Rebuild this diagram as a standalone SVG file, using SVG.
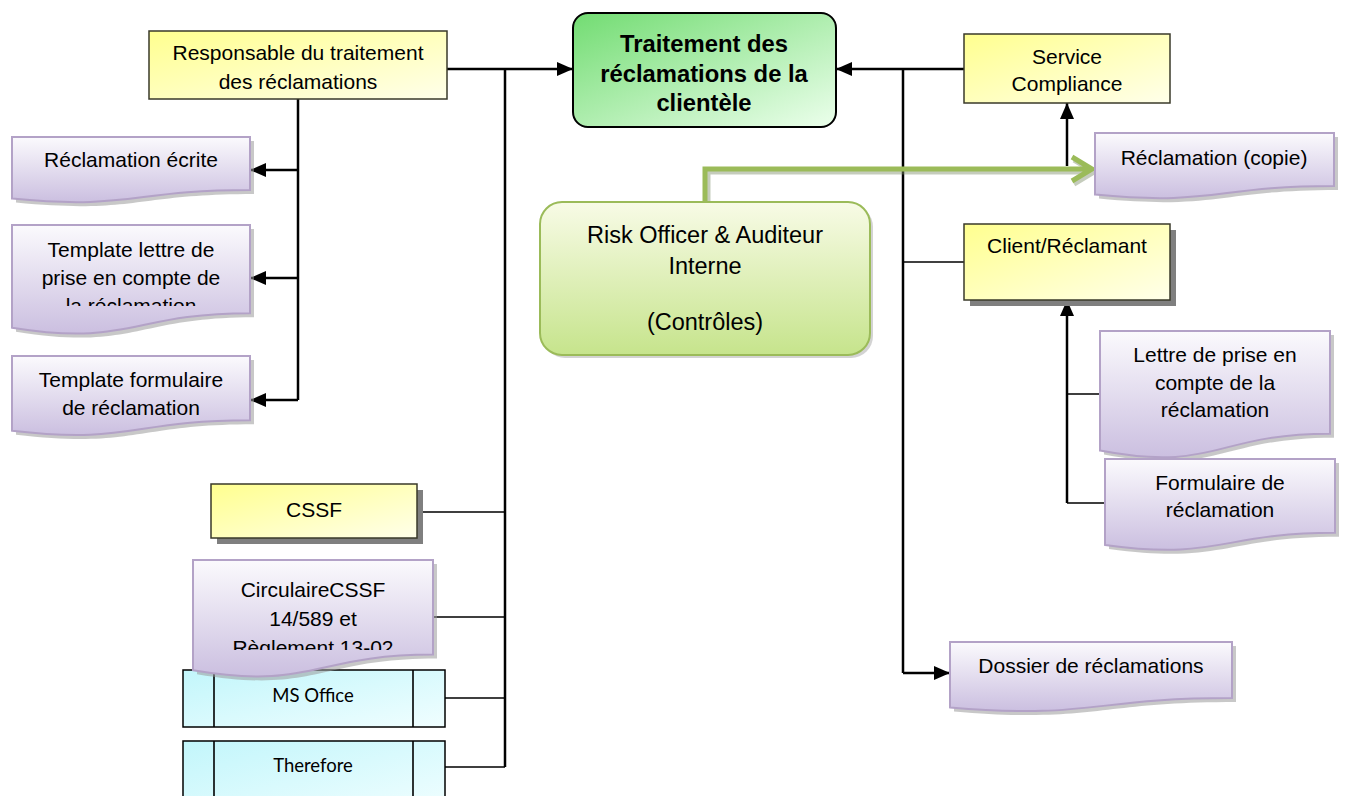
<svg xmlns="http://www.w3.org/2000/svg" width="1346" height="796" viewBox="0 0 1346 796">
<style>
text{font-family:"Liberation Sans",Arial,sans-serif;font-size:21px;fill:#000;text-anchor:middle}
.big{font-size:23.5px}
.bold{font-weight:bold;font-size:23.8px}
.cal{font-family:Lato,"Open Sans",sans-serif;font-size:18.5px}
.doc{fill:url(#gDoc);stroke:#b3a2c7;stroke-width:2}
.dsh{fill:#9a9a9a;opacity:0.55}
.yel{fill:url(#gYel);stroke:#3a3a2a;stroke-width:1.5}
.ysh{fill:#7f7f7f}
.cy{fill:url(#gCy);stroke:#000;stroke-width:1.5}
.ln{fill:none;stroke:#000;stroke-width:2.5}
.lt{fill:none;stroke:#000;stroke-width:1.6}
.ar{marker-end:url(#arr)}
</style>
<defs>
<linearGradient id="gDoc" x1="0" y1="0" x2="0" y2="1"><stop offset="0" stop-color="#fbfafd"/><stop offset="1" stop-color="#cbbfe0"/></linearGradient>
<linearGradient id="gYel" x1="0" y1="0" x2="1" y2="1"><stop offset="0" stop-color="#ffff8f"/><stop offset="1" stop-color="#ffffea"/></linearGradient>
<linearGradient id="gMain" x1="0" y1="0" x2="1" y2="1"><stop offset="0" stop-color="#72dc72"/><stop offset="1" stop-color="#ecffec"/></linearGradient>
<linearGradient id="gRisk" x1="0" y1="0" x2="0" y2="1"><stop offset="0" stop-color="#f8fbe6"/><stop offset="1" stop-color="#c6e48c"/></linearGradient>
<linearGradient id="gCy" x1="0" y1="0" x2="1" y2="1"><stop offset="0" stop-color="#c2f6fb"/><stop offset="1" stop-color="#f0feff"/></linearGradient>
<marker id="arr" viewBox="0 0 16 14" refX="16" refY="7" markerWidth="16" markerHeight="14" markerUnits="userSpaceOnUse" orient="auto"><path d="M0,0 L16,7 L0,14 Z" fill="#000"/></marker>
<clipPath id="clipTL"><rect x="12" y="225" width="238" height="81"/></clipPath>
<clipPath id="clipCi"><rect x="193" y="560" width="240" height="90"/></clipPath>
</defs>

<g id="connectors">
<path class="ln ar" d="M447,69 H573"/>
<path class="ln" d="M505,69 V767"/>
<path class="lt" d="M417,512 H505 M433,617 H505 M445,698 H505 M445,767 H505"/>
<path class="ln" d="M298,99 V400"/>
<path class="ln ar" d="M298,170 H250"/>
<path class="ln ar" d="M298,278 H250"/>
<path class="ln ar" d="M298,400 H250"/>
<path class="ln ar" d="M964,69 H836"/>
<path class="ln" d="M903,69 V673"/>
<path class="ln ar" d="M903,673 H950"/>
<path class="lt" d="M903,262 H964"/>
<path class="ln ar" d="M1067,166 V103"/>
<path class="ln ar" d="M1067,503 V300"/>
<path class="lt" d="M1067,394 H1100 M1067,503 H1105"/>
<g fill="none" stroke-linejoin="miter">
<path d="M708,204 V172 H1090 M1074,160 L1094,172 L1074,184" stroke="#7f8f6a" stroke-width="5" opacity="0.45"/>
<path d="M705,202 V169 H1090 M1072,157 L1092,169 L1072,181" stroke="#9bbb59" stroke-width="5"/>
</g>
</g>

<g id="n-main">
<rect x="573" y="13" width="263" height="114" rx="15" fill="url(#gMain)" stroke="#000" stroke-width="2"/>
<text class="bold" x="704" y="52">Traitement des</text>
<text class="bold" x="704" y="82">réclamations de la</text>
<text class="bold" x="704" y="111">clientèle</text>
</g>

<g id="n-responsable">
<rect class="yel" x="149" y="31" width="298" height="68"/>
<text x="298" y="60">Responsable du traitement</text>
<text x="298" y="89">des réclamations</text>
</g>

<g id="n-service">
<rect class="yel" x="964" y="34" width="206" height="69"/>
<text x="1067" y="64">Service</text>
<text x="1067" y="91">Compliance</text>
</g>

<g id="n-client">
<rect class="ysh" x="970" y="230" width="206" height="76"/>
<rect class="yel" x="964" y="224" width="206" height="76"/>
<text x="1067" y="253">Client/Réclamant</text>
</g>

<g id="n-cssf">
<rect class="ysh" x="217" y="490" width="206" height="54"/>
<rect class="yel" x="211" y="484" width="206" height="54"/>
<text x="314" y="517">CSSF</text>
</g>

<g id="n-risk">
<rect x="543" y="205" width="330" height="153" rx="22" fill="#a8a8a8" opacity="0.5"/>
<rect x="540" y="202" width="330" height="153" rx="22" fill="url(#gRisk)" stroke="#9bbb59" stroke-width="2"/>
<text class="big" x="705" y="243">Risk Officer &amp; Auditeur</text>
<text class="big" x="705" y="274">Interne</text>
<text class="big" x="705" y="330">(Contrôles)</text>
</g>

<g id="n-recl-ecrite">
<path class="dsh" transform="translate(4,4)" d="M12,137 H250 V189.9 C131,189.9 131,210.1 12,198.6 Z"/>
<path class="doc" d="M12,137 H250 V189.9 C131,189.9 131,210.1 12,198.6 Z"/>
<text x="131" y="167">Réclamation écrite</text>
</g>

<g id="n-template-lettre">
<path class="dsh" transform="translate(4,4)" d="M12,225 H250 V313.2 C131,313.2 131,346.8 12,327.7 Z"/>
<path class="doc" d="M12,225 H250 V313.2 C131,313.2 131,346.8 12,327.7 Z"/>
<g clip-path="url(#clipTL)">
<text x="131" y="257">Template lettre de</text>
<text x="131" y="285">prise en compte de</text>
<text x="131" y="313">la réclamation</text>
</g>
</g>

<g id="n-template-form">
<path class="dsh" transform="translate(4,4)" d="M12,356 H250 V420.2 C131,420.2 131,444.6 12,430.7 Z"/>
<path class="doc" d="M12,356 H250 V420.2 C131,420.2 131,444.6 12,430.7 Z"/>
<text x="131" y="387">Template formulaire</text>
<text x="131" y="415">de réclamation</text>
</g>

<g id="n-copie">
<path class="dsh" transform="translate(4,4)" d="M1095,133 H1334 V185.9 C1214.5,185.9 1214.5,206.1 1095,194.6 Z"/>
<path class="doc" d="M1095,133 H1334 V185.9 C1214.5,185.9 1214.5,206.1 1095,194.6 Z"/>
<text x="1214" y="165">Réclamation (copie)</text>
</g>

<g id="n-lettre">
<path class="dsh" transform="translate(4,4)" d="M1100,331 H1330 V433.7 C1215,433.7 1215,472.7 1100,450.6 Z"/>
<path class="doc" d="M1100,331 H1330 V433.7 C1215,433.7 1215,472.7 1100,450.6 Z"/>
<text x="1215" y="362">Lettre de prise en</text>
<text x="1215" y="390">compte de la</text>
<text x="1215" y="417">réclamation</text>
</g>

<g id="n-formulaire">
<path class="dsh" transform="translate(4,4)" d="M1105,459 H1335 V532.8 C1220,532.8 1220,560.8 1105,544.9 Z"/>
<path class="doc" d="M1105,459 H1335 V532.8 C1220,532.8 1220,560.8 1105,544.9 Z"/>
<text x="1220" y="490">Formulaire de</text>
<text x="1220" y="517">réclamation</text>
</g>

<g id="n-msoffice">
<rect class="cy" x="183" y="670" width="262" height="57"/>
<path class="lt" d="M214,670 V727 M413,670 V727"/>
<text class="cal" x="313" y="702">MS Office</text>
</g>

<g id="n-therefore">
<rect class="cy" x="183" y="741" width="262" height="70"/>
<path class="lt" d="M214,741 V796 M413,741 V796"/>
<text class="cal" x="313" y="772">Therefore</text>
</g>

<g id="n-circulaire">
<path class="dsh" transform="translate(4,4)" d="M193,560 H433 V654.6 C313,654.6 313,690.6 193,670.2 Z"/>
<path class="doc" d="M193,560 H433 V654.6 C313,654.6 313,690.6 193,670.2 Z"/>
<g clip-path="url(#clipCi)">
<text x="313" y="597">CirculaireCSSF</text>
<text x="313" y="626">14/589 et</text>
<text x="313" y="655">Règlement 13-02</text>
</g>
</g>

<g id="n-dossier">
<path class="dsh" transform="translate(4,4)" d="M950,642 H1232 V698.1 C1091,698.1 1091,719.5 950,707.4 Z"/>
<path class="doc" d="M950,642 H1232 V698.1 C1091,698.1 1091,719.5 950,707.4 Z"/>
<text x="1091" y="673">Dossier de réclamations</text>
</g>
</svg>
